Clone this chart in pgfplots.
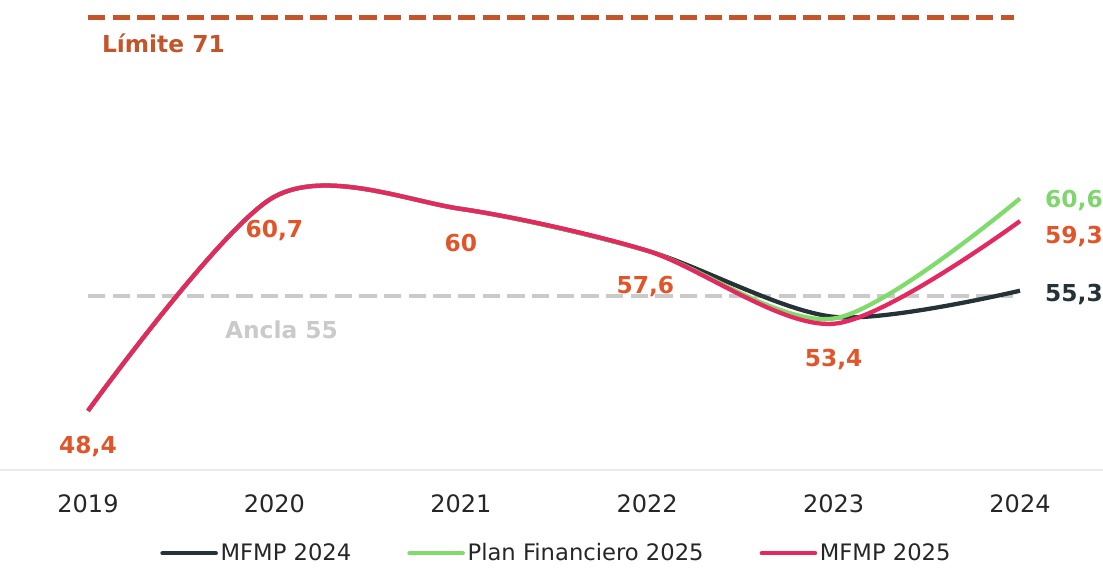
\documentclass[border=0pt]{standalone}
\usepackage{pgfplots}
\pgfplotsset{compat=1.18}
\usepackage{fontspec}
\setmainfont{DejaVu Sans}
\definecolor{redline}{HTML}{E3295F}
\definecolor{greenline}{HTML}{7FDC6A}
\definecolor{darkline}{HTML}{253238}
\definecolor{lblorange}{HTML}{E0562A}
\definecolor{limite}{HTML}{C4552B}
\definecolor{ancla}{HTML}{CACACA}
\definecolor{greenlbl}{HTML}{7ED66D}
\begin{document}
\begin{tikzpicture}
\path[use as bounding box] (0,0) rectangle (827.25pt,428.25pt);
\begin{axis}[
  at={(66pt,75.75pt)}, anchor=south west,
  scale only axis, width=699pt, height=352.5pt,
  xmin=2019, xmax=2024, ymin=45, ymax=72,
  clip=false,
  axis line style={draw=none},
  tick style={draw=none},
  ytick=\empty,
  xtick={2019,2020,2021,2022,2023,2024},
  xticklabels={2019,2020,2021,2022,2023,2024},
  xticklabel style={font=\fontsize{18}{20}\selectfont, text=black!85, yshift=-15pt},
  legend columns=3,
  legend style={at={(0.503,-0.177)}, anchor=center, draw=none, fill=none,
    font=\fontsize{17}{20}\selectfont, text=black!85,
    /tikz/every even column/.append style={column sep=40pt},
    inner sep=0pt},
  legend image code/.code={\draw[#1, line width=3.2pt, line cap=round] (0pt,0pt) -- (40pt,0pt);},
]
% baseline
\addplot[forget plot, draw=black!8, line width=0.8pt] coordinates {(2018.53,45) (2024.45,45)};
% limite and ancla
\addplot[forget plot, draw=limite, line width=3.6pt, dash pattern=on 13pt off 5.5pt] coordinates {(2019,71) (2023.97,71)};
\addplot[forget plot, draw=ancla, line width=3.6pt, dash pattern=on 13pt off 5.5pt] coordinates {(2019,55) (2023.96,55)};
% series
\addplot[darkline, line width=3.2pt, smooth] coordinates {(2019,48.4) (2020,60.7) (2021,60) (2022,57.6) (2023,53.8) (2024,55.3)};
\addlegendentry{MFMP 2024}
\addplot[greenline, line width=3.2pt, smooth] coordinates {(2019,48.4) (2020,60.7) (2021,60) (2022,57.6) (2023,53.7) (2024,60.6)};
\addlegendentry{Plan Financiero 2025}
\addplot[redline, line width=3.2pt, smooth] coordinates {(2019,48.4) (2020,60.7) (2021,60) (2022,57.6) (2023,53.4) (2024,59.3)};
\addlegendentry{MFMP 2025}
% text labels
\node[anchor=west, text=limite, font=\fontsize{17.5}{20}\selectfont\bfseries] at (axis cs:2019.05,69.5) {Límite 71};
\node[anchor=west, text=ancla, font=\fontsize{17.5}{20}\selectfont\bfseries] at (axis cs:2019.71,53.05) {Ancla 55};
\begin{scope}[every node/.style={text=lblorange, font=\fontsize{17.5}{20}\selectfont\bfseries}]
\node at (axis cs:2019,46.35) {48,4};
\node at (axis cs:2020,58.78) {60,7};
\node at (axis cs:2021,58.04) {60};
\node at (axis cs:2021.99,55.52) {57,6};
\node at (axis cs:2023,51.33) {53,4};
\end{scope}
\node[anchor=west, text=greenlbl, font=\fontsize{17.5}{20}\selectfont\bfseries] at (axis cs:2024.11,60.5) {60,6};
\node[anchor=west, text=lblorange, font=\fontsize{17.5}{20}\selectfont\bfseries] at (axis cs:2024.11,58.44) {59,3};
\node[anchor=west, text=darkline, font=\fontsize{17.5}{20}\selectfont\bfseries] at (axis cs:2024.11,55.11) {55,3};
\end{axis}
\end{tikzpicture}
\end{document}
